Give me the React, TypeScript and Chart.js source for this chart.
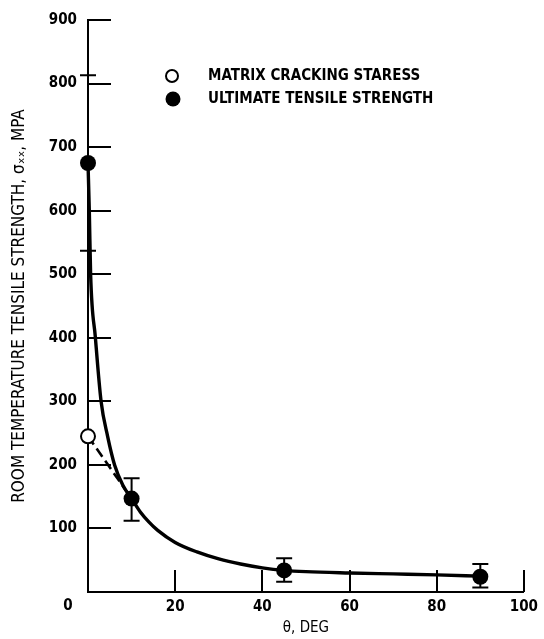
import React, { useEffect, useRef } from "react";
import { Chart, registerables } from "chart.js";

Chart.register(...registerables);

// Fitted curve for ultimate tensile strength
const curveTheta = [0, 0.3, 0.6, 1.7, 3, 4.5, 6.1, 8, 10, 12, 14, 16, 20, 25, 30, 35, 40, 45, 50, 60, 70, 80, 90];
const curveStress = [675, 600, 500, 400, 300, 245, 200, 168, 147, 126, 110, 97, 78, 63, 52, 44, 38, 34, 32, 30, 28.5, 27, 25];

// Dashed matrix-cracking line
const matrixLineTheta = [0, 10];
const matrixLineStress = [245, 147];

// Matrix cracking stress (open symbol)
const matrixTheta = [0];
const matrixStress = [245];

// Ultimate tensile strength (filled symbols) with scatter bands
const utsTheta = [0, 10, 45, 90];
const utsStress = [675, 147, 34, 24];
const utsLow = [537, 112, 16, 7];
const utsHigh = [813, 179, 53, 44];

// Axes
const xTickValues = [0, 20, 40, 60, 80, 100];
const yTickValues = [100, 200, 300, 400, 500, 600, 700, 800, 900];
const xTitle = "θ, DEG";
const yTitle = "ROOM TEMPERATURE TENSILE STRENGTH, σₓₓ, MPA";
const legendLabels = ["MATRIX CRACKING STARESS", "ULTIMATE TENSILE STRENGTH"];

const FONT = "'DejaVu Sans Condensed', 'DejaVu Sans', sans-serif";

const innerTicks = {
  id: "innerTicks",
  beforeDatasetsDraw(chart: any) {
    const { ctx, scales, chartArea } = chart;
    const x = scales.x;
    const y = scales.y;
    ctx.save();
    ctx.strokeStyle = "#000";
    ctx.lineWidth = 2;
    ctx.beginPath();
    for (const v of yTickValues) {
      const py = Math.round(y.getPixelForValue(v));
      ctx.moveTo(chartArea.left, py);
      ctx.lineTo(chartArea.left + 23, py);
    }
    for (const v of xTickValues) {
      if (v === 0) continue;
      const px = Math.round(x.getPixelForValue(v));
      ctx.moveTo(px, chartArea.bottom);
      ctx.lineTo(px, chartArea.bottom - 22);
    }
    ctx.stroke();
    ctx.restore();
  },
};

const errorBars = {
  id: "errorBars",
  beforeDatasetsDraw(chart: any) {
    const { ctx, scales } = chart;
    const x = scales.x;
    const y = scales.y;
    ctx.save();
    ctx.strokeStyle = "#000";
    ctx.lineWidth = 2;
    ctx.beginPath();
    utsTheta.forEach((t, i) => {
      const px = x.getPixelForValue(t);
      const lo = y.getPixelForValue(utsLow[i]);
      const hi = y.getPixelForValue(utsHigh[i]);
      ctx.moveTo(px, lo);
      ctx.lineTo(px, hi);
      ctx.moveTo(px - 8, lo);
      ctx.lineTo(px + 8, lo);
      ctx.moveTo(px - 8, hi);
      ctx.lineTo(px + 8, hi);
    });
    ctx.stroke();
    ctx.restore();
  },
};

const extras = {
  id: "extras",
  afterDraw(chart: any) {
    const { ctx, scales } = chart;
    const x = scales.x;
    ctx.save();
    // origin label
    ctx.fillStyle = "#000";
    ctx.font = `bold 15px ${FONT}`;
    ctx.textAlign = "center";
    ctx.textBaseline = "middle";
    ctx.fillText("0", x.getPixelForValue(0) - 20, 606);
    // legend
    ctx.textAlign = "left";
    ctx.lineWidth = 2;
    ctx.strokeStyle = "#000";
    ctx.fillStyle = "#fff";
    ctx.beginPath();
    ctx.arc(172, 76, 6, 0, Math.PI * 2);
    ctx.fill();
    ctx.stroke();
    ctx.fillStyle = "#000";
    ctx.beginPath();
    ctx.arc(173, 99, 7.5, 0, Math.PI * 2);
    ctx.fill();
    ctx.fillText(legendLabels[0], 208, 76);
    ctx.fillText(legendLabels[1], 208, 99);
    ctx.restore();
  },
};

export default function App() {
  const ref = useRef<HTMLCanvasElement | null>(null);

  useEffect(() => {
    document.body.style.margin = "0";
    const canvas = ref.current;
    if (!canvas) return;
    Chart.defaults.font.family = FONT;
    Chart.defaults.color = "#000";

    const chart = new Chart(canvas, {
      type: "scatter",
      data: {
        datasets: [
          {
            label: legendLabels[1],
            data: utsTheta.map((t, i) => ({ x: t, y: utsStress[i] })),
            pointRadius: 8,
            pointBackgroundColor: "#000",
            pointBorderColor: "#000",
            pointBorderWidth: 0,
            showLine: false,
            clip: false,
            order: 0,
          },
          {
            label: legendLabels[0],
            data: matrixTheta.map((t, i) => ({ x: t, y: matrixStress[i] })),
            pointRadius: 7,
            pointBackgroundColor: "#fff",
            pointBorderColor: "#000",
            pointBorderWidth: 2,
            showLine: false,
            clip: false,
            order: 0,
          },
          {
            label: "fit",
            data: curveTheta.map((t, i) => ({ x: t, y: curveStress[i] })),
            showLine: true,
            pointRadius: 0,
            borderColor: "#000",
            borderWidth: 3.4,
            cubicInterpolationMode: "monotone",
            clip: false,
            order: 1,
          },
          {
            label: "matrix fit",
            data: matrixLineTheta.map((t, i) => ({ x: t, y: matrixLineStress[i] })),
            showLine: true,
            pointRadius: 0,
            borderColor: "#000",
            borderWidth: 2.6,
            borderDash: [10, 5],
            clip: false,
            order: 1,
          },
        ],
      },
      options: {
        responsive: false,
        animation: false,
        layout: { padding: { top: 15, right: 15, left: 0, bottom: 0 } },
        plugins: {
          legend: { display: false },
          tooltip: { enabled: false },
        },
        scales: {
          x: {
            type: "linear",
            min: 0,
            max: 100,
            afterFit: (s: any) => {
              s.height = 47;
            },
            afterBuildTicks: (s: any) => {
              s.ticks = xTickValues.map((v) => ({ value: v }));
            },
            ticks: {
              font: { size: 15, weight: "bold" },
              padding: 6,
              callback: (v: any) => (v === 0 ? "" : String(v)),
              maxRotation: 0,
            },
            grid: { display: false, drawTicks: false },
            border: { display: true, color: "#000", width: 2 },
            title: {
              display: true,
              text: xTitle,
              font: { size: 15 },
              padding: { top: 0, bottom: 2 },
            },
          },
          y: {
            type: "linear",
            min: 0,
            max: 900,
            afterFit: (s: any) => {
              s.width = 88;
            },
            afterBuildTicks: (s: any) => {
              s.ticks = [0, ...yTickValues].map((v) => ({ value: v }));
            },
            ticks: {
              font: { size: 15, weight: "bold" },
              padding: 11,
              callback: (v: any) => (v === 0 ? "" : String(v)),
            },
            grid: { display: false, drawTicks: false },
            border: { display: true, color: "#000", width: 2 },
            title: {
              display: true,
              text: yTitle,
              font: { size: 17 },
              padding: { top: 9, bottom: 0 },
            },
          },
        },
      },
      plugins: [innerTicks, errorBars, extras],
    });
    return () => chart.destroy();
  }, []);

  return (
    <div style={{ width: 544, height: 639, background: "#fff" }}>
      <canvas ref={ref} width={544} height={639} style={{ display: "block" }} />
    </div>
  );
}
